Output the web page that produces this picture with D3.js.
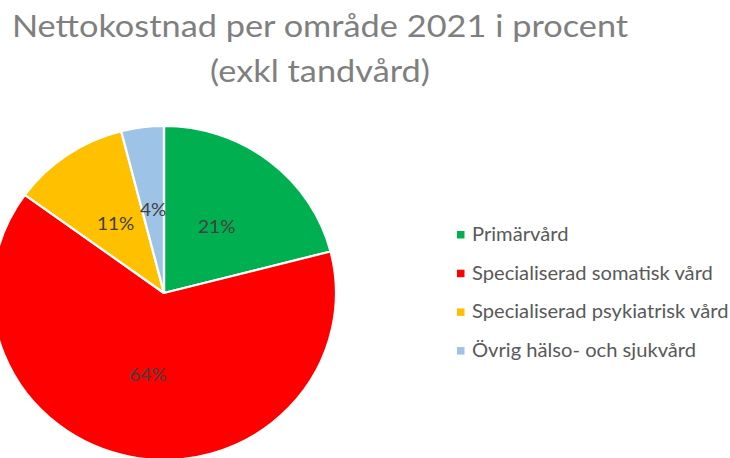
<!DOCTYPE html>
<html>
<head>
<meta charset="utf-8">
<script src="https://cdn.jsdelivr.net/npm/d3@7"></script>
<style>
  html, body { margin: 0; padding: 0; background: #fff; }
  svg { display: block; font-family: Lato, "Open Sans", sans-serif; }
</style>
</head>
<body>
<svg id="chart" width="730" height="458"></svg>
<script>
// Net cost per area, 2021 (percent, excluding dental care)
const titleLines = ["Nettokostnad per område 2021 i procent", "(exkl tandvård)"];
const categories = [
  "Primärvård",
  "Specialiserad somatisk vård",
  "Specialiserad psykiatrisk vård",
  "Övrig hälso- och sjukvård"
];
const values = [21, 64, 11, 4];
const colors = ["#00B050", "#FF0000", "#FFC000", "#9DC3E6"];

const svg = d3.select("#chart");

// Text is drawn slightly widened horizontally, like the rest of the chart
const stretch = 1.09;

// Title
svg.append("g")
  .attr("transform", `translate(320,0) scale(${stretch},1)`)
  .selectAll("text")
  .data(titleLines)
  .join("text")
  .attr("x", 0)
  .attr("y", (d, i) => 37 + i * 45)
  .attr("text-anchor", "middle")
  .attr("fill", "#7f7f7f")
  .attr("font-size", 31.5)
  .text(d => d);

// Pie (slightly wider than tall)
const cx = 164, cy = 293, ry = 167, rx = 172;
const data = categories.map((c, i) => ({ name: c, value: values[i], color: colors[i] }));
const pie = d3.pie().sort(null).value(d => d.value);
const arcs = pie(data);
const arc = d3.arc().innerRadius(0).outerRadius(ry);
const labelArc = d3.arc().innerRadius(ry / 2).outerRadius(ry / 2);

const g = svg.append("g").attr("transform", `translate(${cx},${cy})`);
g.append("g")
  .attr("transform", `scale(${rx / ry},1)`)
  .selectAll("path")
  .data(arcs)
  .join("path")
  .attr("d", arc)
  .attr("fill", d => d.data.color)
  .attr("stroke", "#fff")
  .attr("stroke-width", 2.2)
  .attr("stroke-linejoin", "round");

g.selectAll("text")
  .data(arcs)
  .join("text")
  .attr("transform", d => {
    const [x, y] = labelArc.centroid(d);
    return `translate(${x * rx / ry},${y}) scale(${stretch},1)`;
  })
  .attr("text-anchor", "middle")
  .attr("dy", "0.35em")
  .attr("fill", "#404040")
  .attr("font-size", 17.5)
  .text(d => `${d.data.value}%`);

// Legend
const legend = svg.append("g").attr("transform", "translate(457,231)");
const rows = legend.selectAll("g")
  .data(data)
  .join("g")
  .attr("transform", (d, i) => `translate(0,${i * 38.7})`);
rows.append("rect")
  .attr("width", 7.5)
  .attr("height", 7.5)
  .attr("fill", d => d.color);
rows.append("text")
  .attr("transform", `translate(15,9.8) scale(${stretch},1)`)
  .attr("fill", "#595959")
  .attr("font-size", 18.5)
  .text(d => d.name);
</script>
</body>
</html>
